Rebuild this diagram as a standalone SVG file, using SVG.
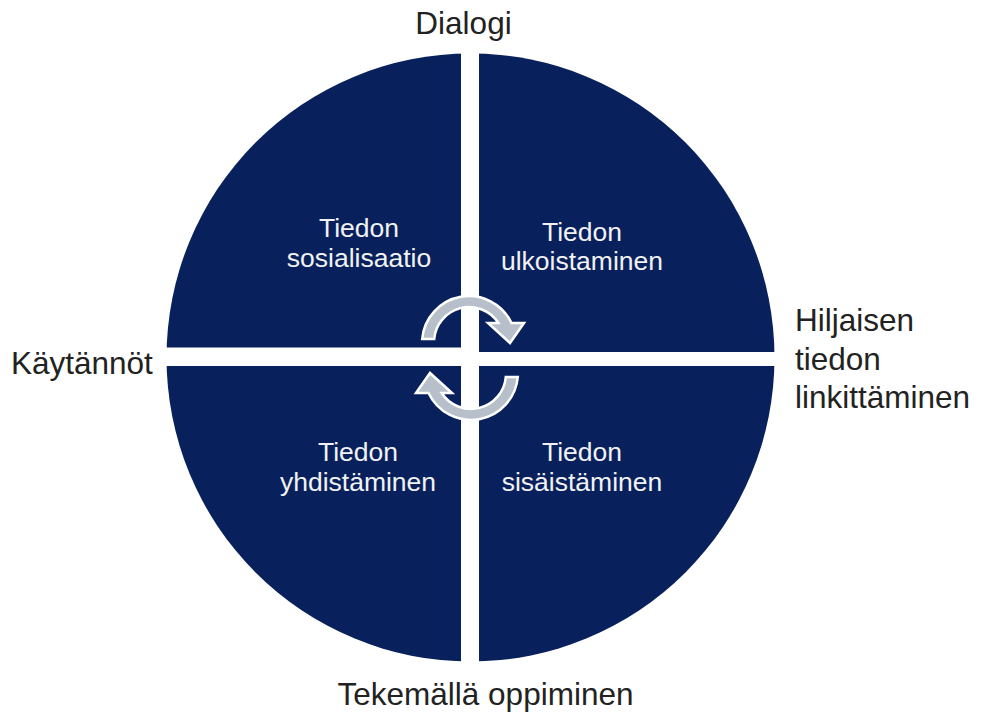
<svg xmlns="http://www.w3.org/2000/svg" xmlns:xlink="http://www.w3.org/1999/xlink" width="982" height="713" viewBox="0 0 982 713">
  <style>
    .quad { fill: #08205c; }
    .inner { font-family: "Liberation Sans", Arial, sans-serif; font-size: 26.5px; fill: #f2f2f2; text-anchor: middle; }
    .outer { font-family: "Liberation Sans", Arial, sans-serif; font-size: 31.5px; fill: #222222; }
    .arrow { fill: #b7c0ca; stroke: #ffffff; stroke-width: 2.5; stroke-linejoin: miter; }
  </style>
  <defs>
    <clipPath id="disc">
      <circle cx="470.5" cy="357.5" r="304"/>
    </clipPath>
    <!-- curved arrow: band over the top, head pointing down on the right -->
    <path id="curved-arrow" d="M422.2,339 A47,47 0 0 1 511.5,323 L524,323 L510,343 L488,323 L498.4,323 A35,35 0 0 0 434.2,339 Z"/>
  </defs>
  <rect width="982" height="713" fill="#ffffff"/>

  <g clip-path="url(#disc)">
    <g id="socialisation">
      <rect class="quad" x="160" y="50" width="301" height="297.5"/>
    </g>
    <g id="externalisation">
      <rect class="quad" x="479" y="50" width="301" height="302"/>
    </g>
    <g id="combination">
      <rect class="quad" x="160" y="366" width="301" height="304"/>
    </g>
    <g id="internalisation">
      <rect class="quad" x="479" y="366" width="301" height="304"/>
    </g>
  </g>

  <g id="quadrant-labels">
    <text class="inner" x="359" y="237">Tiedon</text>
    <text class="inner" x="359" y="267">sosialisaatio</text>
    <text class="inner" x="582" y="241">Tiedon</text>
    <text class="inner" x="582" y="270">ulkoistaminen</text>
    <text class="inner" x="358" y="461">Tiedon</text>
    <text class="inner" x="358" y="491">yhdistäminen</text>
    <text class="inner" x="582" y="461">Tiedon</text>
    <text class="inner" x="582" y="491">sisäistäminen</text>
  </g>

  <g id="connectors">
    <use xlink:href="#curved-arrow" class="arrow"/>
    <use xlink:href="#curved-arrow" class="arrow" transform="rotate(180 470 358)"/>
  </g>

  <g id="axis-labels">
    <text class="outer" x="463.5" y="34" text-anchor="middle">Dialogi</text>
    <text class="outer" x="11" y="374">Käytännöt</text>
    <text class="outer" x="795" y="331">Hiljaisen</text>
    <text class="outer" x="795" y="370">tiedon</text>
    <text class="outer" x="795" y="408">linkittäminen</text>
    <text class="outer" x="485.5" y="705" text-anchor="middle">Tekemällä oppiminen</text>
  </g>
</svg>
